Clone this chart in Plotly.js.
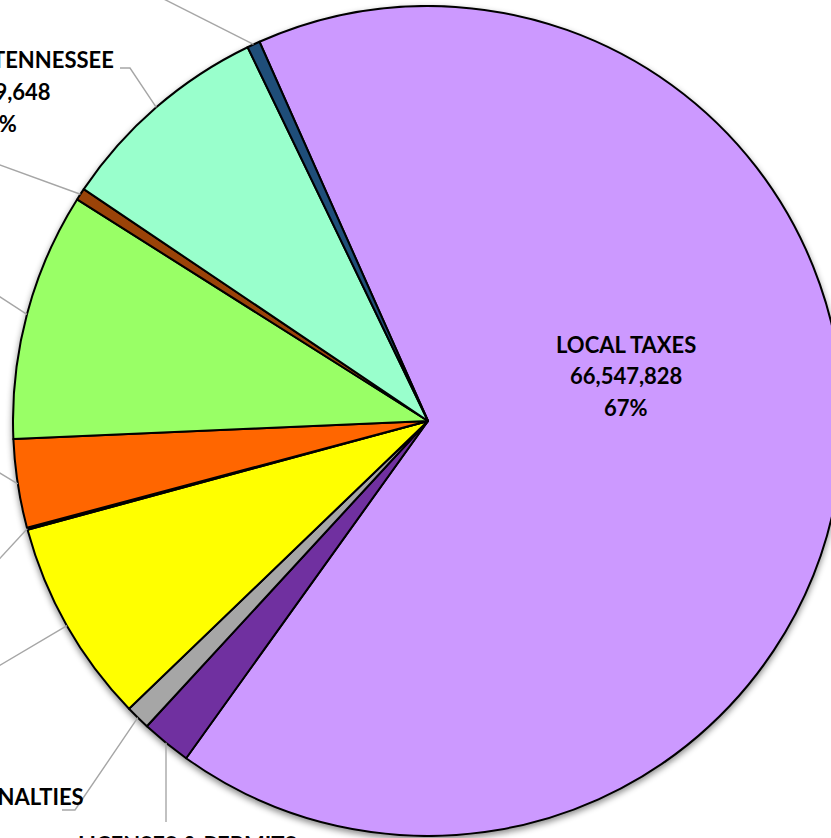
<!DOCTYPE html>
<html>
<head>
<meta charset="utf-8">
<script src="https://cdn.plot.ly/plotly-3.0.1.min.js"></script>
<style>
html,body{margin:0;padding:0;overflow:hidden;width:831px;height:838px;background:#ffffff;}
#chart{position:absolute;left:-500px;top:-200px;width:1400px;height:1300px;}
#chart .pielayer{filter:drop-shadow(0px 3px 3px rgba(0,0,0,0.45));}
</style>
</head>
<body>
<div id="chart"></div>
<script>
// ---- data (clockwise from the top) ----
const categories = [
  "LOCAL TAXES",
  "LICENSES & PERMITS",
  "FINES & PENALTIES",
  "CHARGES FOR CURRENT SERVICES",
  "OTHER LOCAL REVENUES",
  "FEES RECEIVED FROM COUNTY OFFICIALS",
  "OTHER SOURCES",
  "OTHER GOVERNMENTS",
  "STATE OF TENNESSEE",
  "FEDERAL GOVERNMENT"
];
const values = [66547828, 1943512, 958207, 7971340, 83115, 3444860, 9657203, 469380, 8409648, 500214];
const colors = ["#CC99FF", "#7030A0", "#A6A6A6", "#FFFF00", "#BFBFBF", "#FF6600", "#99FF66", "#9A4308", "#99FFCC", "#1F4E79"];

// ---- layout / geometry (viewport pixels) ----
const VW = 1400, VH = 1300, OFFX = 500, OFFY = 200;
const CX = 428, CY = 421, R = 415;
const ROTATION = -23.96;
const LINE_GAP = 31.5;
const FONT = {family: "Lato, 'Open Sans', sans-serif", size: 22, color: "#000000", weight: 700};

// label placement per slice: x, first-line y, anchor, which lines, leader path after slice edge
const labelPos = [
  {x: 626, y: 344, anchor: "center", lines: "all", leader: null},
  {x: 187, y: 844, anchor: "center", lines: "all", leader: [[166, 822]]},
  {x: 86,  y: 796, anchor: "right",  lines: "name", leader: [[75, 810], [62, 810]]},
  {x: -30, y: 690, anchor: "right",  lines: "all", leader: [[-20, 677]]},
  {x: -30, y: 592, anchor: "right",  lines: "all", leader: [[-20, 580]]},
  {x: -30, y: 450, anchor: "right",  lines: "all", leader: [[-20, 461]]},
  {x: -30, y: 272, anchor: "right",  lines: "all", leader: [[-20, 284]]},
  {x: -40, y: 120, anchor: "right",  lines: "all", leader: [[-30, 154]]},
  {x: 1,   y: 60,  anchor: "center", lines: "all", leader: [[130, 68], [120, 68]]},
  {x: 60,  y: -110, anchor: "center", lines: "all", leader: [[140, -13]]}
];

const px = v => (v + OFFX) / VW;
const py = v => 1 - (v + OFFY) / VH;

const total = values.reduce((a, b) => a + b, 0);
const annotations = [];
const shapes = [];
let cum = 0;
values.forEach((v, i) => {
  const mid = (ROTATION + 360 * (cum + v / 2) / total) * Math.PI / 180;
  cum += v;
  const sx = CX + R * Math.sin(mid), sy = CY - R * Math.cos(mid);
  const lp = labelPos[i];
  if (lp.leader) {
    let d = `M${px(sx)},${py(sy)}`;
    lp.leader.forEach(p => { d += ` L${px(p[0])},${py(p[1])}`; });
    shapes.push({type: "path", xref: "paper", yref: "paper", path: d,
                 line: {color: "#A6A6A6", width: 1.4}});
  }
  const texts = lp.lines === "name"
    ? [categories[i]]
    : [categories[i], v.toLocaleString("en-US"), Math.round(100 * v / total) + "%"];
  texts.forEach((t, k) => {
    annotations.push({
      text: t, showarrow: false, xref: "paper", yref: "paper",
      x: px(lp.x), y: py(lp.y + k * LINE_GAP),
      xanchor: lp.anchor, yanchor: "middle", align: lp.anchor === "right" ? "right" : "center",
      font: FONT
    });
  });
});

const trace = {
  type: "pie",
  labels: categories,
  values: values,
  sort: false,
  direction: "clockwise",
  rotation: ROTATION,
  textinfo: "none",
  hoverinfo: "none",
  marker: {colors: colors, line: {color: "#000000", width: 2}},
  domain: {
    x: [px(CX - R), px(CX + R)],
    y: [py(CY + R), py(CY - R)]
  },
  showlegend: false
};

Plotly.newPlot("chart", [trace], {
  width: VW, height: VH,
  margin: {l: 0, r: 0, t: 0, b: 0},
  paper_bgcolor: "#ffffff",
  showlegend: false,
  annotations: annotations,
  shapes: shapes
}, {displayModeBar: false, staticPlot: true});
</script>
</body>
</html>
